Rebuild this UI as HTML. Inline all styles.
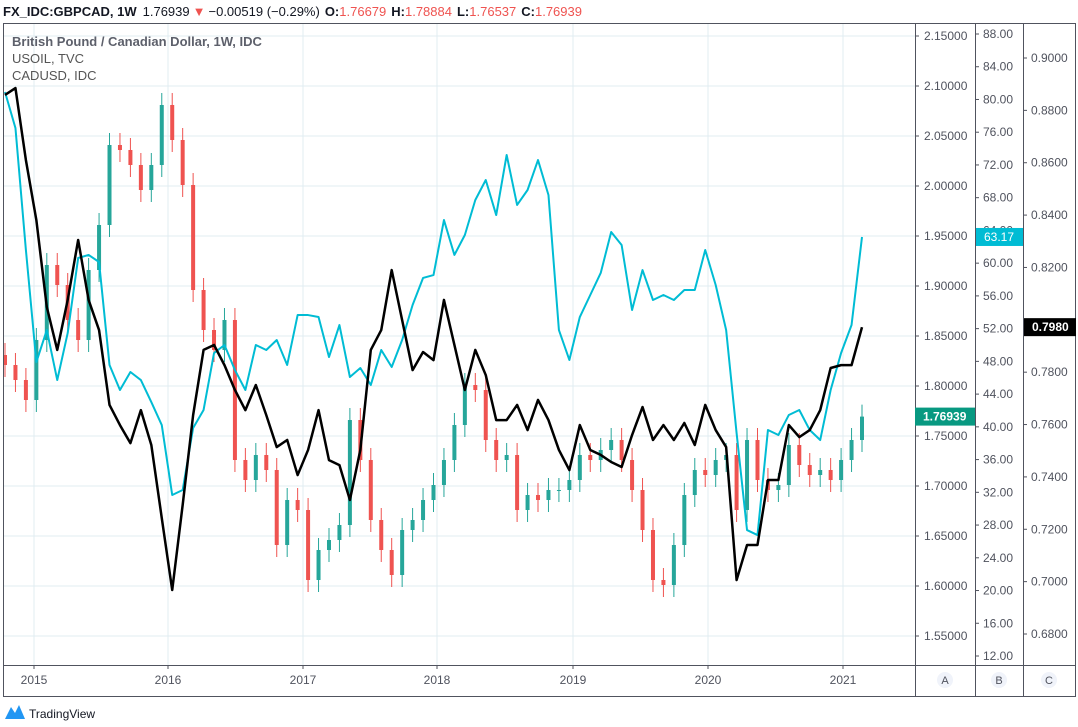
<!DOCTYPE html>
<html><head><meta charset="utf-8">
<style>
body{margin:0;background:#fff;width:1078px;height:727px;overflow:hidden;font-family:"Liberation Sans",sans-serif;}
svg{display:block}
</style></head>
<body>
<svg id="chart" width="1078" height="727" viewBox="0 0 1078 727" xmlns="http://www.w3.org/2000/svg" font-family="Liberation Sans, sans-serif">
  <g font-size="13">
    <text x="3" y="16" fill="#131722"><tspan font-weight="bold">FX_IDC:GBPCAD, 1W</tspan><tspan dx="6">1.76939</tspan><tspan fill="#ef5350" dx="3">▼</tspan><tspan dx="3">−0.00519 (−0.29%)</tspan><tspan dx="5" font-weight="bold">O:</tspan><tspan fill="#ef5350">1.76679</tspan><tspan dx="5" font-weight="bold">H:</tspan><tspan fill="#ef5350">1.78884</tspan><tspan dx="5" font-weight="bold">L:</tspan><tspan fill="#ef5350">1.76537</tspan><tspan dx="5" font-weight="bold">C:</tspan><tspan fill="#ef5350">1.76939</tspan></text>
  </g>
  <g id="grid"></g>
  <g id="series"></g>
  <g font-size="13" fill="#555">
    <text x="12" y="46" font-weight="bold" fill="#5d606b">British Pound / Canadian Dollar, 1W, IDC</text>
    <text x="12" y="63">USOIL, TVC</text>
    <text x="12" y="80">CADUSD, IDC</text>
  </g>
  <g id="frame" stroke="#50535e" stroke-width="1" fill="none">
    <rect x="3.5" y="23.5" width="1072" height="673"/>
    <line x1="3" y1="665.5" x2="1076" y2="665.5"/>
    <line x1="915.5" y1="23" x2="915.5" y2="697"/>
    <line x1="975.5" y1="23" x2="975.5" y2="697"/>
    <line x1="1023.5" y1="23" x2="1023.5" y2="697"/>
  </g>
  <g id="axes" font-size="12" fill="#50535e"></g>
  <g font-size="11" fill="#50535e" text-anchor="middle">
    <circle cx="945" cy="680" r="8" fill="#f0f3fa"/><text x="945" y="684">A</text>
    <circle cx="999" cy="680" r="8" fill="#f0f3fa"/><text x="999" y="684">B</text>
    <circle cx="1049" cy="680" r="8" fill="#f0f3fa"/><text x="1049" y="684">C</text>
  </g>
  <g>
    <path d="M5 719 L11 707 L15 713 L19 705 L25 719 Z" fill="#2196f3"/>
    <text x="29" y="718" font-size="12" fill="#131722">TradingView</text>
  </g>
</svg>
<script>
const years = ["2015","2016","2017","2018","2019","2020","2021"];
const yearX = [34,168,303,437,573,708,843];
const ticksA = [2.15,2.10,2.05,2.00,1.95,1.90,1.85,1.80,1.75,1.70,1.65,1.60,1.55];
const ticksB = [88,84,80,76,72,68,64,60,56,52,48,44,40,36,32,28,24,20,16,12];
const ticksC = [0.90,0.88,0.86,0.84,0.82,0.80,0.78,0.76,0.74,0.72,0.70,0.68];
const gbpcadPx = [365,380,400,340,265,285,320,340,270,225,145,150,165,190,165,105,140,185,290,330,350,320,460,480,455,470,545,500,510,580,550,540,525,420,460,520,550,575,530,520,500,485,460,425,385,390,440,460,455,510,495,500,490,490,480,455,460,450,440,460,490,530,580,585,545,495,470,475,460,455,510,440,480,490,485,445,465,475,470,480,460,440,416.6];
const oilPx = [92,128,250,362,330,380,333,258,255,262,365,390,372,380,402,425,495,490,428,410,353,345,370,390,345,350,340,365,315,315,317,357,325,377,368,385,350,367,340,305,278,275,220,255,235,200,180,215,155,205,190,160,195,330,360,317,295,273,232,245,310,270,300,295,300,290,290,250,285,330,433,530,535,430,435,415,410,430,440,390,353,325,237];
const cadPx = [95,88,160,220,307,350,300,240,300,330,405,425,443,410,445,518,590,505,415,350,345,365,390,410,385,415,447,440,475,450,410,460,465,500,450,350,330,270,320,370,352,360,300,345,390,350,375,420,420,405,430,400,420,450,470,425,450,455,462,467,435,407,440,425,440,423,445,405,430,447,580,545,545,480,480,425,437,430,410,368,365,365,327];
const gbpcad = gbpcadPx.map(y => +(2.15 - (y-36)/1000).toFixed(5));
const usoil = oilPx.map(y => +(88 - (y-34)/8.184).toFixed(2));
const cadusd = cadPx.map(y => +(0.90 - (y-58)/2618).toFixed(4));

const NS="http://www.w3.org/2000/svg";
function mk(tag, attrs, parent){const e=document.createElementNS(NS,tag);for(const k in attrs)e.setAttribute(k,attrs[k]);parent.appendChild(e);return e;}
const xOf = i => 5 + i*(857/82);
const yA = v => 36 + (2.15 - v)*1000;
const yB = v => 34 + (88 - v)*(622/76);
const yC = v => 58 + (0.90 - v)*(576/0.22);

const grid=document.getElementById('grid'), ser=document.getElementById('series'), ax=document.getElementById('axes');
const lastC = yC(cadusd[cadusd.length-1]);
ticksA.forEach(v=>{const l=mk('line',{x1:3,x2:915,y1:yA(v),y2:yA(v),stroke:'#e1ecf2'},grid);

});
yearX.forEach((x,i)=>{const l=mk('line',{x1:x,x2:x,y1:23,y2:665,stroke:'#e1ecf2'},grid);


const t=mk('text',{x:x,y:684,'text-anchor':'middle'},ax);t.textContent=years[i];


mk('line',{x1:x,x2:x,y1:665,y2:669,stroke:'#50535e'},ax);});
ticksA.forEach(v=>{mk('line',{x1:915,x2:919,y1:yA(v),y2:yA(v),stroke:'#50535e'},ax);
const t=mk('text',{x:924,y:yA(v)+4},ax);t.textContent=v.toFixed(5);

});
ticksB.forEach(v=>{mk('line',{x1:975,x2:979,y1:yB(v),y2:yB(v),stroke:'#50535e'},ax);
const t=mk('text',{x:983,y:yB(v)+4},ax);t.textContent=v.toFixed(2);

});
ticksC.forEach(v=>{if(Math.abs(yC(v)-lastC)<16)return;mk('line',{x1:1023,x2:1027,y1:yC(v),y2:yC(v),stroke:'#50535e'},ax);
const t=mk('text',{x:1031,y:yC(v)+4},ax);t.textContent=v.toFixed(4);

});

const wick=0.012;
gbpcad.forEach((c,i)=>{const o=i?gbpcad[i-1]:c+0.01;const up=c>=o;const col=up?'#26a69a':'#ef5350';
const x=xOf(i);
const w=mk('line',{x1:x,x2:x,y1:yA(Math.max(o,c)+wick),y2:yA(Math.min(o,c)-wick),stroke:col,'stroke-width':1},ser);


const top=yA(Math.max(o,c)),h=Math.max(1,yA(Math.min(o,c))-top);
const b=mk('rect',{x:x-2,y:top,width:4,height:h,fill:col},ser);

});
const oil=mk('polyline',{points:usoil.map((v,i)=>xOf(i)+','+yB(v)).join(' '),fill:'none',stroke:'#00bcd4','stroke-width':2,'stroke-linejoin':'round'},ser);


const cad=mk('polyline',{points:cadusd.map((v,i)=>xOf(i)+','+yC(v)).join(' '),fill:'none',stroke:'#000','stroke-width':2.5,'stroke-linejoin':'round'},ser);



function label(x,w,y,bg,txt,name,bold){const g=mk('g',{},ax);


mk('rect',{x:x,y:y-9,width:w,height:18,fill:bg},g);
const t=mk('text',{x:x+8,y:y+4,fill:'#fff','font-weight':bold?'bold':'normal'},g);t.textContent=txt;}
label(915,60,yA(gbpcad[gbpcad.length-1]),'#089981','1.76939','gbpcad-price-label',true);
label(976,47,yB(usoil[usoil.length-1]),'#00bcd4','63.17','usoil-price-label',false);
label(1024,52,lastC,'#000','0.7980','cadusd-price-label',true);
</script>
</body></html>
